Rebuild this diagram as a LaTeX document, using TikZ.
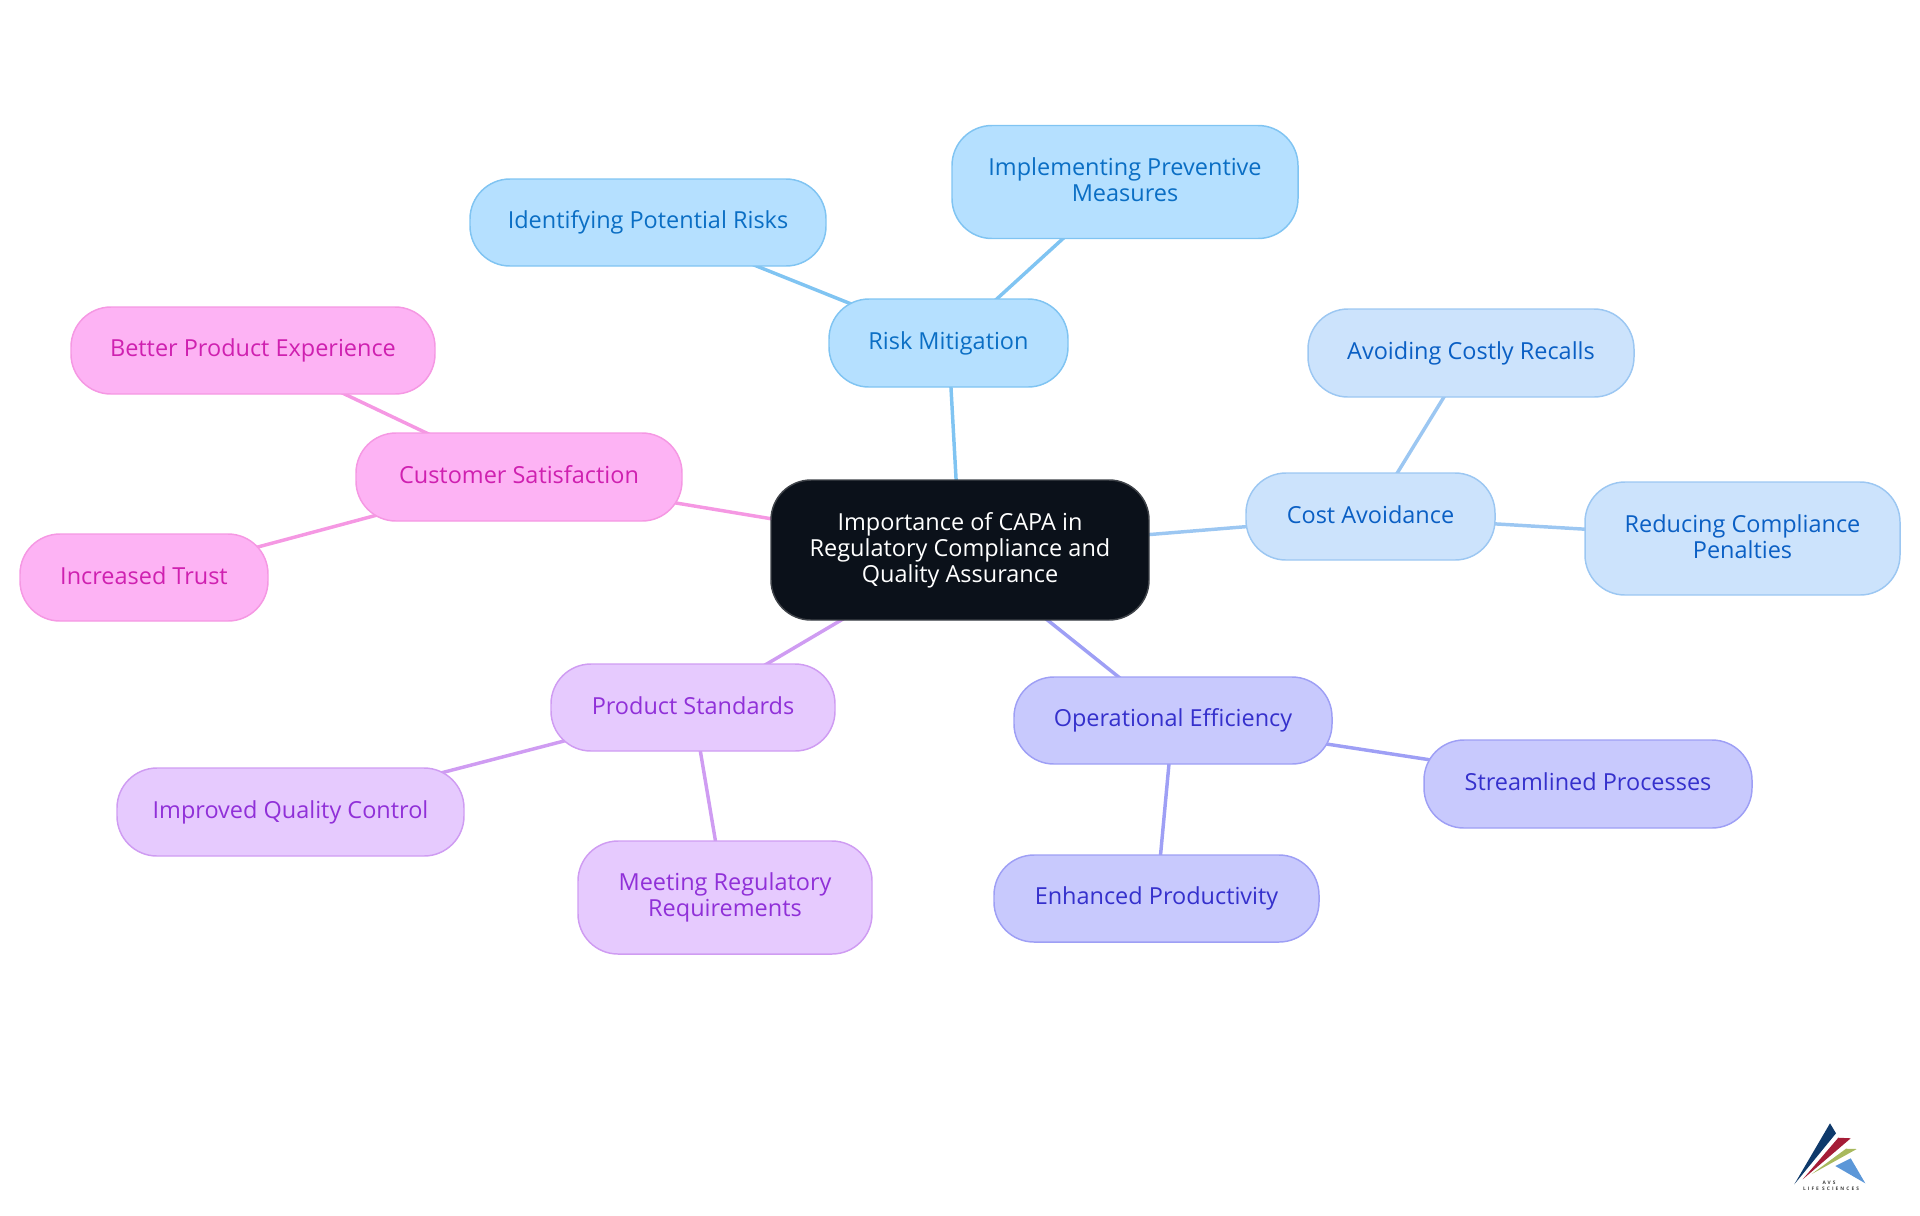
\documentclass[tikz,border=0pt]{standalone}
\usepackage{fontspec}
\setmainfont{Open Sans}
\newfontfamily\logofont[LetterSpace=43]{Open Sans}
\usetikzlibrary{backgrounds}
\definecolor{riskF}{HTML}{B5E0FF}\definecolor{riskB}{HTML}{80C4F2}\definecolor{riskT}{HTML}{0A6EC4}
\definecolor{costF}{HTML}{CCE3FC}\definecolor{costB}{HTML}{9CC7F2}\definecolor{costT}{HTML}{0A5FC4}
\definecolor{opF}{HTML}{C8C9FD}\definecolor{opB}{HTML}{9E9FF5}\definecolor{opT}{HTML}{3530CC}
\definecolor{prodF}{HTML}{E6CAFE}\definecolor{prodB}{HTML}{CF9CF2}\definecolor{prodT}{HTML}{9030D8}
\definecolor{custF}{HTML}{FDB3F4}\definecolor{custB}{HTML}{F598E3}\definecolor{custT}{HTML}{CF20B0}
\definecolor{rootF}{HTML}{0B111A}\definecolor{rootB}{HTML}{3F4349}
\definecolor{logoN}{HTML}{0F3A6B}\definecolor{logoR}{HTML}{A51C36}\definecolor{logoG}{HTML}{A8B95E}\definecolor{logoB}{HTML}{5C97D8}
\newcommand{\tp}{\rule{0pt}{12.4pt}}
\newcommand{\bt}{\rule[-3.3pt]{0pt}{3.3pt}}
\tikzset{
  x=0.75pt,y=-0.75pt,
  card/.style={rectangle,rounded corners=30pt,inner sep=0pt,align=center,line width=1.1pt,
    font=\fontsize{17.6pt}{19.5pt}\selectfont},
  size/.style 2 args={minimum width=#1*0.75pt,minimum height=#2*0.75pt},
  risk/.style={card,draw=riskB,fill=riskF,text=riskT},
  cost/.style={card,draw=costB,fill=costF,text=costT},
  oper/.style={card,draw=opB,fill=opF,text=opT},
  prod/.style={card,draw=prodB,fill=prodF,text=prodT},
  cust/.style={card,draw=custB,fill=custF,text=custT},
  rootnode/.style={card,draw=rootB,fill=rootF,text=white},
  riskL/.style={line width=2.6pt,draw=riskB},
  costL/.style={line width=2.6pt,draw=costB},
  operL/.style={line width=2.6pt,draw=opB},
  prodL/.style={line width=2.6pt,draw=prodB},
  custL/.style={line width=2.6pt,draw=custB},
  logotext/.style={inner sep=0pt,text=black!75,font=\logofont\fontsize{3.6pt}{4pt}\selectfont\bfseries},
}
\begin{document}
\begin{tikzpicture}
\useasboundingbox (0,0) rectangle (1920,1215);
\node[rootnode,size={378}{140}] (root) at (960,550) {\tp Importance of CAPA in\\Regulatory Compliance and\\Quality Assurance\bt};
\node[risk,size={239}{88}] (rm) at (948.5,343) {\tp Risk Mitigation\bt};
\node[risk,size={356}{87}] (ipr) at (648,222.5) {\tp Identifying Potential Risks\bt};
\node[risk,size={346}{113}] (ipm) at (1125,182) {\tp Implementing Preventive\\Measures\bt};
\node[cost,size={249}{87}] (ca) at (1370.5,516.5) {\tp Cost Avoidance\bt};
\node[cost,size={326}{88}] (acr) at (1471,353) {\tp Avoiding Costly Recalls\bt};
\node[cost,size={315}{113}] (rcp) at (1742.5,538.5) {\tp Reducing Compliance\\Penalties\bt};
\node[oper,size={318}{87}] (oe) at (1173,720.5) {\tp Operational Efficiency\bt};
\node[oper,size={328}{88}] (sp) at (1588,784) {\tp Streamlined Processes\bt};
\node[oper,size={325}{87}] (ep) at (1156.5,898.5) {\tp Enhanced Productivity\bt};
\node[prod,size={284}{87}] (ps) at (693,707.5) {\tp Product Standards\bt};
\node[prod,size={347}{88}] (iqc) at (290.5,812) {\tp Improved Quality Control\bt};
\node[prod,size={294}{113}] (mrr) at (725,897.5) {\tp Meeting Regulatory\\Requirements\bt};
\node[cust,size={326}{88}] (cs) at (519,477) {\tp Customer Satisfaction\bt};
\node[cust,size={364}{87}] (bpe) at (253,350.5) {\tp Better Product Experience\bt};
\node[cust,size={248}{87}] (it) at (144,577.5) {\tp Increased Trust\bt};
\begin{scope}[on background layer]
\draw[riskL] (root.center) -- (rm.center);
\draw[riskL] (rm.center) -- (ipr.center);
\draw[riskL] (rm.center) -- (ipm.center);
\draw[costL] (root.center) -- (ca.center);
\draw[costL] (ca.center) -- (acr.center);
\draw[costL] (ca.center) -- (rcp.center);
\draw[operL] (root.center) -- (oe.center);
\draw[operL] (oe.center) -- (sp.center);
\draw[operL] (oe.center) -- (ep.center);
\draw[prodL] (root.center) -- (ps.center);
\draw[prodL] (ps.center) -- (iqc.center);
\draw[prodL] (ps.center) -- (mrr.center);
\draw[custL] (root.center) -- (cs.center);
\draw[custL] (cs.center) -- (bpe.center);
\draw[custL] (cs.center) -- (it.center);
\end{scope}
% logo
\fill[logoN] (1794.3,1184.3) -- (1830,1123.3) -- (1836,1133.3) -- cycle;
\fill[logoR] (1802.7,1179.3) -- (1838.3,1137.7) -- (1850.7,1138.3) -- cycle;
\fill[logoG] (1811.7,1174) -- (1846,1148.7) -- (1856.7,1149) -- cycle;
\fill[logoB] (1835.3,1166) -- (1850.7,1158.3) -- (1865.3,1183.3) -- cycle;
\node[logotext] (lavs) at (1829,1182.3) {AVS};
\node[logotext] (llife) at (1831,1189) {LIFE SCIENCES};
\end{tikzpicture}
\end{document}
